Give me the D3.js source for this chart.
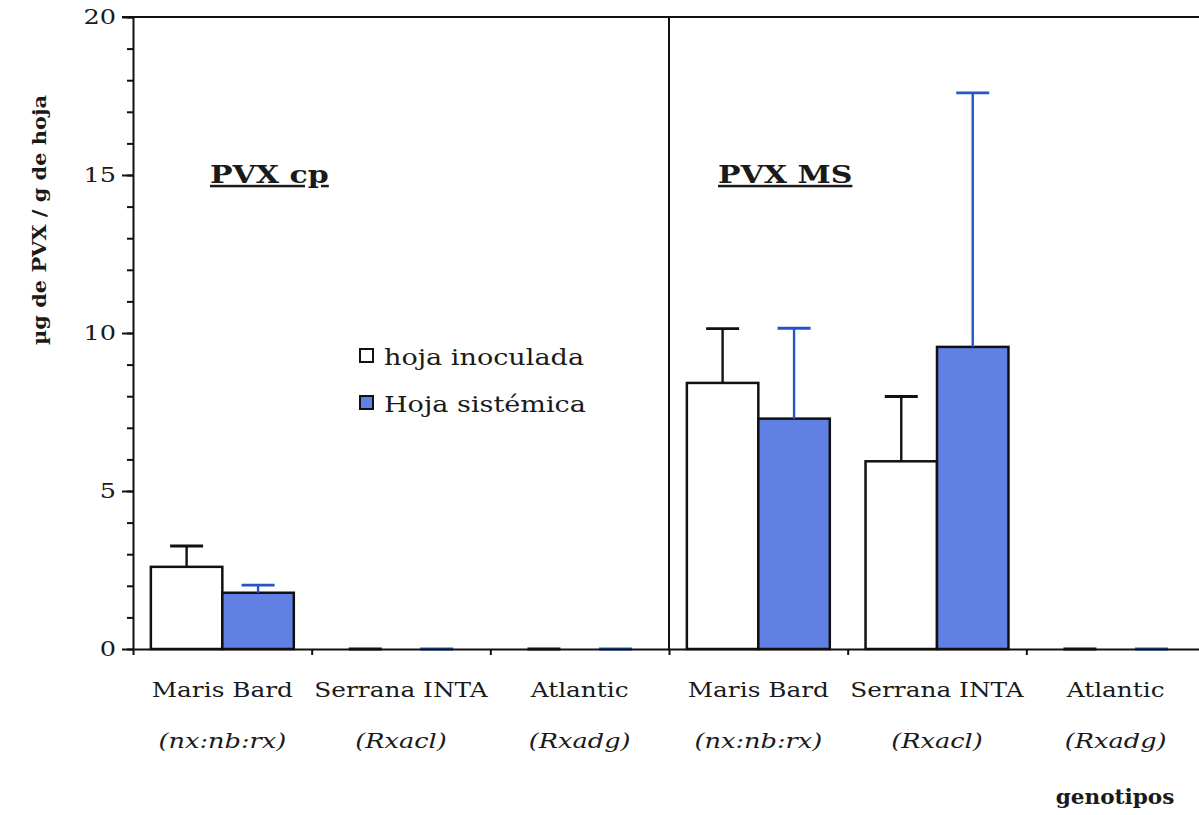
<!DOCTYPE html>
<html>
<head>
<meta charset="utf-8">
<script src="https://cdn.jsdelivr.net/npm/d3@7"></script>
<style>
  body { margin: 0; background: #fff; }
  svg { display: block; }
  text { font-family: "DejaVu Serif", serif; fill: #1a1a1a; }
</style>
</head>
<body>
<svg id="chart"></svg>
<script>
// Data
const panels = ["PVX cp", "PVX MS"];
const genotypes = ["Maris Bard", "Serrana INTA", "Atlantic"];
const alleles = ["(nx:nb:rx)", "(Rxacl)", "(Rxadg)"];
const seriesNames = ["hoja inoculada", "Hoja sistémica"];
const inoculada = [2.6, 0, 0, 8.42, 5.94, 0];
const inoculadaErr = [0.66, 0, 0, 1.72, 2.05, 0];
const sistemica = [1.78, 0, 0, 7.29, 9.56, 0];
const sistemicaErr = [0.24, 0, 0, 2.86, 8.04, 0];
const yTicks = [0, 5, 10, 15, 20];

const width = 1199, height = 815;
const svg = d3.select("#chart").attr("width", width).attr("height", height);

const mLeft = 133, mRight = 1205, mTop = 17, mBottom = 649;
const wide = 1.22; // the original serif face is wider than DejaVu Serif

// Scales
const groups = d3.range(panels.length * genotypes.length);
const x0 = d3.scaleBand().domain(groups).range([mLeft, mRight]).padding(0);
const x1 = d3.scaleBand().domain([0, 1]).range([0, x0.bandwidth()])
  .paddingInner(0).paddingOuter(0.25);
const y = d3.scaleLinear().domain([0, 20]).range([mBottom, mTop]);

const fills = ["#ffffff", "#6080e4"];
const errColors = ["#111111", "#2456c8"];
const rows = groups.map(i => ({
  i,
  vals: [inoculada[i], sistemica[i]],
  errs: [inoculadaErr[i], sistemicaErr[i]]
}));

// Top frame line and panel divider
svg.append("line")
  .attr("x1", mLeft - 11).attr("x2", width).attr("y1", y(20)).attr("y2", y(20))
  .attr("stroke", "#111").attr("stroke-width", 2);
svg.append("line")
  .attr("x1", x0(3)).attr("x2", x0(3)).attr("y1", y(20)).attr("y2", mBottom)
  .attr("stroke", "#111").attr("stroke-width", 2);

// Bars
const g = svg.append("g").selectAll("g").data(rows).join("g")
  .attr("transform", d => `translate(${x0(d.i)},0)`);

g.selectAll("rect")
  .data(d => d.vals.map((v, k) => ({ v, k })).filter(e => e.v > 0))
  .join("rect")
  .attr("x", e => x1(e.k))
  .attr("y", e => y(e.v))
  .attr("width", x1.bandwidth())
  .attr("height", e => y(0) - y(e.v))
  .attr("fill", e => fills[e.k])
  .attr("stroke", "#111")
  .attr("stroke-width", 2.5);

// Error bars (upper only)
const capW = 33;
g.selectAll("g.err")
  .data(d => d.vals.map((v, k) => ({ v, k, e: d.errs[k] })))
  .join("g").attr("class", "err")
  .each(function (e) {
    const cx = x1(e.k) + x1.bandwidth() / 2;
    const sel = d3.select(this);
    sel.append("line")
      .attr("x1", cx).attr("x2", cx)
      .attr("y1", y(e.v)).attr("y2", y(e.v + e.e))
      .attr("stroke", errColors[e.k]).attr("stroke-width", 2.4);
    sel.append("line")
      .attr("x1", cx - capW / 2).attr("x2", cx + capW / 2)
      .attr("y1", y(e.v + e.e)).attr("y2", y(e.v + e.e))
      .attr("stroke", errColors[e.k]).attr("stroke-width", 2.8);
  });

// Y axis: minor ticks then major with labels
svg.append("g")
  .attr("transform", `translate(${mLeft},0)`)
  .call(d3.axisLeft(y).tickValues(d3.range(0, 21, 1)).tickSize(6).tickFormat(""))
  .call(a => a.select(".domain").remove())
  .call(a => a.selectAll("line").attr("stroke", "#111").attr("stroke-width", 2));

svg.append("g")
  .attr("transform", `translate(${mLeft},0)`)
  .call(d3.axisLeft(y).tickValues(yTicks).tickSize(11).tickPadding(6).tickSizeOuter(0))
  .call(a => a.select(".domain").attr("stroke", "#111").attr("stroke-width", 2))
  .call(a => a.selectAll("line").attr("stroke", "#111").attr("stroke-width", 2))
  .call(a => a.selectAll("text")
    .attr("font-size", 21).attr("font-family", "DejaVu Serif")
    .attr("fill", "#222")
    .attr("x", null)
    .attr("transform", `translate(-17,0) scale(${wide},1)`));

// X axis baseline with boundary ticks
const bounds = groups.map(i => x0(i)).concat([mRight]);
svg.append("g")
  .attr("transform", `translate(0,${mBottom})`)
  .call(d3.axisBottom(d3.scaleLinear().domain([mLeft, mRight]).range([mLeft, mRight]))
    .tickValues(bounds).tickSize(6).tickSizeOuter(0).tickFormat(""))
  .call(a => a.select(".domain").attr("stroke", "#111").attr("stroke-width", 2))
  .call(a => a.selectAll("line").attr("stroke", "#111").attr("stroke-width", 2));

// helper: place widened text
function wideText(sel, x, yy, sx) {
  return sel.append("text").attr("transform", `translate(${x},${yy}) scale(${sx},1)`);
}

// Category labels
groups.forEach(i => {
  const cx = x0(i) + x0.bandwidth() / 2;
  wideText(svg, cx, 697, 1.24)
    .attr("text-anchor", "middle").attr("font-size", 20)
    .text(genotypes[i % 3]);
  wideText(svg, cx, 748, 1.22)
    .attr("text-anchor", "middle").attr("font-size", 21).attr("font-style", "italic")
    .text(alleles[i % 3]);
});

wideText(svg, 1115, 804, 1.08)
  .attr("text-anchor", "middle").attr("font-size", 20).attr("font-weight", "bold")
  .text("genotipos");

// Panel titles
const titleX = [210, 718];
panels.forEach((p, k) => {
  wideText(svg, titleX[k], 183, 1.2)
    .attr("font-size", 25).attr("font-weight", "bold")
    .attr("text-decoration", "underline")
    .text(p);
});

// Y axis title
svg.append("text")
  .attr("transform", `translate(46,220) rotate(-90)`)
  .attr("text-anchor", "middle")
  .attr("font-size", 19).attr("font-weight", "bold")
  .attr("textLength", 250).attr("lengthAdjust", "spacingAndGlyphs")
  .text("µg de PVX / g de hoja");

// Legend
const legend = svg.append("g").attr("transform", "translate(360,349)");
seriesNames.forEach((s, k) => {
  const row = legend.append("g").attr("transform", `translate(0,${k * 47})`);
  row.append("rect")
    .attr("x", 0).attr("y", 0).attr("width", 13).attr("height", 13)
    .attr("fill", fills[k]).attr("stroke", "#111").attr("stroke-width", 2);
  wideText(row, 24, 16, 1.23)
    .attr("font-size", 22)
    .text(s);
});
</script>
</body>
</html>
